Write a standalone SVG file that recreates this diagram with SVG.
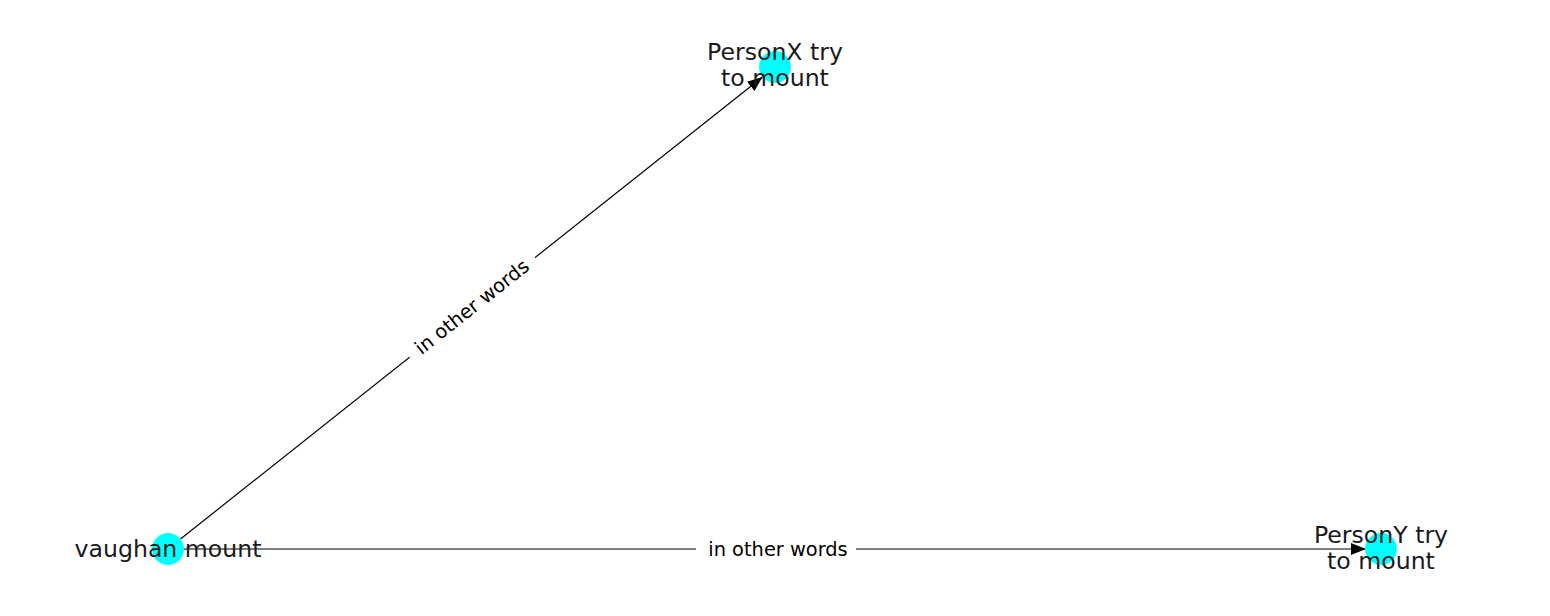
<svg xmlns="http://www.w3.org/2000/svg" width="1550" height="616" viewBox="0 0 1550 616">
<style>
.edge{stroke:#000;stroke-width:1.2;fill:none}
.node{fill:#00ffff}
.nlabel{font-family:"DejaVu Sans",sans-serif;font-size:23.6px;fill:#1a1a1a;text-anchor:middle}
.elabel{font-family:"DejaVu Sans",sans-serif;font-size:19.4px;fill:#000;text-anchor:middle;dominant-baseline:central}
.lbg{fill:#fff}
</style>
<defs>
<marker id="arr" markerUnits="userSpaceOnUse" markerWidth="16" markerHeight="12" refX="15" refY="6" orient="auto">
<path d="M0,0 L15,6 L0,12 Z" fill="#000"/>
</marker>
</defs>
<rect width="1550" height="616" fill="#fff"/>
<g id="connectors">
<line class="edge" x1="180.5" y1="539" x2="762.5" y2="77" marker-end="url(#arr)"/>
<line class="edge" x1="184" y1="549" x2="1366" y2="549" marker-end="url(#arr)"/>
<g transform="translate(472,307) rotate(-38.46)">
<rect class="lbg" x="-80" y="-13" width="160" height="26"/>
<text class="elabel" x="0" y="0">in other words</text>
</g>
<g transform="translate(776,549)">
<rect class="lbg" x="-80" y="-13" width="160" height="26"/>
<text class="elabel" x="2" y="0">in other words</text>
</g>
</g>
<g id="node-vaughan">
<circle class="node" cx="168" cy="549" r="16"/>
<text class="nlabel" x="168" y="557">vaughan mount</text>
</g>
<g id="node-personx">
<circle class="node" cx="775" cy="67" r="16"/>
<text class="nlabel" x="775" y="60">PersonX try</text>
<text class="nlabel" x="775" y="86">to mount</text>
</g>
<g id="node-persony">
<circle class="node" cx="1381" cy="549" r="16"/>
<text class="nlabel" x="1381" y="543">PersonY try</text>
<text class="nlabel" x="1381" y="569">to mount</text>
</g>
</svg>
